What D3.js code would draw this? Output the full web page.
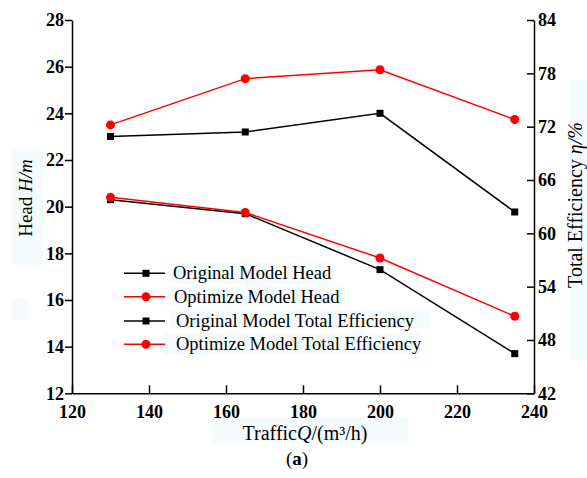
<!DOCTYPE html>
<html><head><meta charset="utf-8">
<script src="https://cdn.jsdelivr.net/npm/d3@7"></script>
<style>
body{margin:0;background:#fff;}
svg{display:block;}
</style></head>
<body>
<svg id="chart" width="587" height="478"></svg>
<script>
const flow = [130, 165, 200, 235];
const headOriginal = [20.3, 19.7, 17.3, 13.7];
const headOptimized = [20.4, 19.75, 17.8, 15.3];
const effOriginal = [70.9, 71.4, 73.5, 62.4];
const effOptimized = [72.2, 77.4, 78.4, 72.8];
const xTicks = [120, 140, 160, 180, 200, 220, 240];
const headTicks = [12, 14, 16, 18, 20, 22, 24, 26, 28];
const effTicks = [42, 48, 54, 60, 66, 72, 78, 84];
const legendLabels = ["Original Model Head", "Optimize Model Head", "Original Model Total Efficiency", "Optimize Model Total Efficiency"];

const FONT = "'Liberation Serif','Times New Roman',serif";
const svg = d3.select("#chart");
const L = 72, R = 534, T = 20, B = 393.3;
const x = d3.scaleLinear().domain([120, 240]).range([L, R]);
const yH = d3.scaleLinear().domain([12, 28]).range([B, T]);
const yE = d3.scaleLinear().domain([42, 84]).range([B, T]);

// faint highlight boxes
const hl = "#f6fcfd";
[[12,150,31,115],[12,298,16,22],[570,80,17,280],[213,417,195,26],
 [170,263,162,20],[170,287,173,18],[170,310,260,18],[165,333,255,22]].forEach(b=>{
  svg.append("rect").attr("x",b[0]).attr("y",b[1]).attr("width",b[2]).attr("height",b[3]).attr("fill",hl);
});

function styleAxis(g){
  g.selectAll("path,line").attr("stroke","#000").attr("stroke-width",1.5);
  g.selectAll("text").attr("font-family",FONT).attr("font-size",18).attr("font-weight","bold").attr("fill","#000");
}
svg.append("g").attr("transform",`translate(${L},0)`)
  .call(d3.axisLeft(yH).tickValues(headTicks).tickSizeInner(7).tickSizeOuter(0).tickPadding(1))
  .call(styleAxis);
svg.append("g").attr("transform",`translate(${R},0)`)
  .call(d3.axisRight(yE).tickValues(effTicks).tickSizeInner(-7).tickSizeOuter(0).tickPadding(4))
  .call(styleAxis);
svg.append("g").attr("transform",`translate(0,${B})`)
  .call(d3.axisBottom(x).tickValues(xTicks).tickSizeInner(-8).tickSizeOuter(0).tickPadding(12))
  .call(styleAxis);

const series = [
  {vals: headOriginal, y: yH, color: "#000", shape: "square"},
  {vals: effOriginal, y: yE, color: "#000", shape: "square"},
  {vals: headOptimized, y: yH, color: "#ff0000", shape: "circle"},
  {vals: effOptimized, y: yE, color: "#ff0000", shape: "circle"}
];
function marker(g, shape, color, cx, cy){
  if(shape==="square") g.append("rect").attr("x",cx-3.5).attr("y",cy-3.5).attr("width",7).attr("height",7).attr("fill",color);
  else g.append("circle").attr("cx",cx).attr("cy",cy).attr("r",4.5).attr("fill",color);
}
series.forEach(s=>{
  const line = d3.line().x((d,i)=>x(flow[i])).y(d=>s.y(d));
  svg.append("path").datum(s.vals).attr("d",line).attr("fill","none").attr("stroke",s.color).attr("stroke-width",1.5);
  const g = svg.append("g");
  s.vals.forEach((v,i)=>marker(g, s.shape, s.color, x(flow[i]), s.y(v)));
});

// legend
const legendRows = [273.3, 296.7, 321, 344.3];
const legendStyle = [["#000","square"],["#ff0000","circle"],["#000","square"],["#ff0000","circle"]];
const textX = [173, 174, 176, 176];
legendLabels.forEach((lab,i)=>{
  const g = svg.append("g");
  const yy = legendRows[i];
  g.append("line").attr("x1",124).attr("x2",165).attr("y1",yy).attr("y2",yy).attr("stroke",legendStyle[i][0]).attr("stroke-width",1.5);
  marker(g, legendStyle[i][1], legendStyle[i][0], 146, yy);
  g.append("text").attr("x",textX[i]).attr("y",yy+6).attr("font-family",FONT).attr("font-size",18.5).attr("fill","#000").text(lab);
});

// axis titles
const lt = svg.append("text").attr("transform","translate(32,198) rotate(-90)").attr("text-anchor","middle")
  .attr("font-family",FONT).attr("font-size",19).attr("fill","#000");
lt.append("tspan").text("Head ");
lt.append("tspan").attr("font-style","italic").text("H/m");

const rt = svg.append("text").attr("transform","translate(582,205) rotate(-90)").attr("text-anchor","middle")
  .attr("font-family",FONT).attr("font-size",20).attr("fill","#000");
rt.append("tspan").text("Total Efficiency ");
rt.append("tspan").attr("font-style","italic").text("η/%");

const xt = svg.append("text").attr("x",305).attr("y",440).attr("text-anchor","middle")
  .attr("font-family",FONT).attr("font-size",20).attr("fill","#000");
xt.append("tspan").text("Traffic");
xt.append("tspan").attr("font-style","italic").text("Q");
xt.append("tspan").text("/(m³/h)");

const at = svg.append("text").attr("x",297).attr("y",465).attr("text-anchor","middle")
  .attr("font-family",FONT).attr("font-size",19).attr("fill","#000");
at.append("tspan").text("(");
at.append("tspan").attr("font-weight","bold").text("a");
at.append("tspan").text(")");
</script>
</body></html>
